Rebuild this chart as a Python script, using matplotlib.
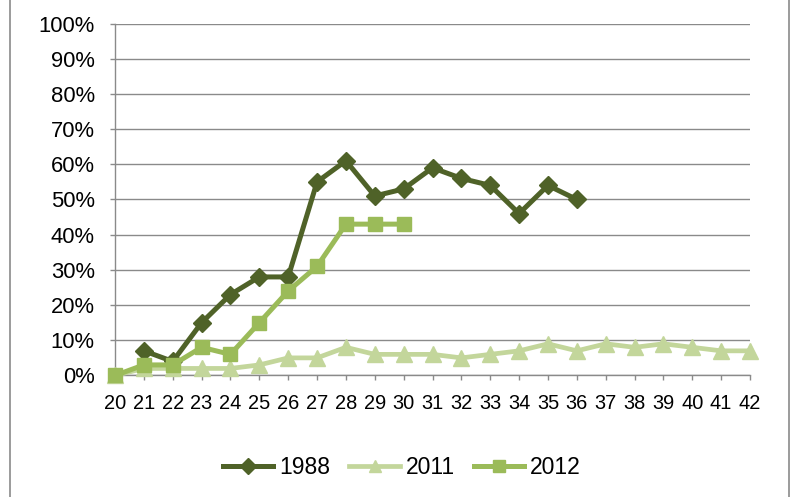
import numpy as np
import matplotlib
matplotlib.use("Agg")
import matplotlib.pyplot as plt
from matplotlib.patches import Rectangle

plt.rcParams['font.family'] = ['Liberation Sans', 'DejaVu Sans']

ages = list(range(20, 43))

# values in percent, None = no data
y1988 = [None, 7, 4, 15, 23, 28, 28, 55, 61, 51, 53, 59, 56, 54, 46, 54, 50,
         None, None, None, None, None, None]
y2011 = [0, 2, 2, 2, 2, 3, 5, 5, 8, 6, 6, 6, 5, 6, 7, 9, 7, 9, 8, 9, 8, 7, 7]
y2012 = [0, 3, 3, 8, 6, 15, 24, 31, 43, 43, 43,
         None, None, None, None, None, None, None, None, None, None, None, None]

series_names = ["1988", "2011", "2012"]


def to_arr(v):
    return np.array([np.nan if a is None else a for a in v], dtype=float)


fig = plt.figure(figsize=(7.91, 4.97), dpi=100)
ax = fig.add_axes([0.1454, 0.2445, 0.8028, 0.7082])

grid_c = "#8a8a8a"

ax.plot(ages, to_arr(y1988), color="#4F6228", lw=3.6, marker="D", ms=9.5,
        label=series_names[0], zorder=3, clip_on=False)
ax.plot(ages, to_arr(y2011), color="#C3D69B", lw=3.4, marker="^", ms=12,
        label=series_names[1], zorder=4, clip_on=False)
ax.plot(ages, to_arr(y2012), color="#9BBB59", lw=3.6, marker="s", ms=10,
        label=series_names[2], zorder=5, clip_on=False)

ax.set_xlim(20, 42)
ax.set_ylim(0, 100)
ax.set_xticks(ages)
ax.set_xticklabels([str(a) for a in ages], fontsize=14.4)
ax.set_yticks(range(0, 101, 10))
ax.set_yticklabels([f"{v}%" for v in range(0, 101, 10)], fontsize=15.8)

ax.yaxis.grid(True, color=grid_c, lw=1.0)
ax.set_axisbelow(True)
for s in ["top", "right"]:
    ax.spines[s].set_visible(False)
for s in ["left", "bottom"]:
    ax.spines[s].set_color(grid_c)
    ax.spines[s].set_linewidth(1.0)
ax.tick_params(axis="y", length=3.6, color=grid_c, width=1.0, pad=11)
ax.tick_params(axis="x", length=3.6, color=grid_c, width=1.0, pad=9.5)

leg = fig.legend(loc="center", bbox_to_anchor=(0.508, 0.06), ncol=3,
                 frameon=False, fontsize=16.5, handlelength=2.2,
                 columnspacing=0.85, handletextpad=0.25)
for h in leg.legend_handles:
    h.set_markersize(8)

# outer chart frame
fig.patches.append(Rectangle((10 / 791, -0.01), 779 / 791, 1.02,
                             transform=fig.transFigure, fill=False,
                             edgecolor=grid_c, lw=1.2))

fig.savefig("out.png", dpi=100)
